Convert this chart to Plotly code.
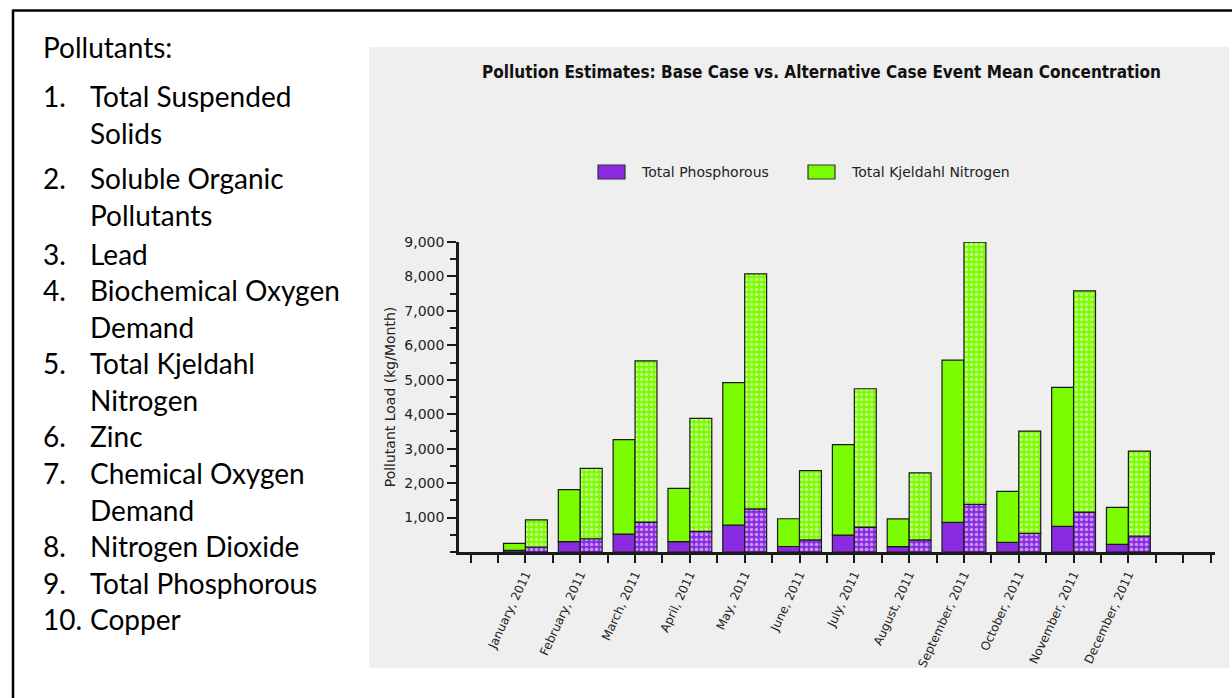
import plotly.graph_objects as go

W, H = 1232, 698
L, R, T, B = 459, 17, 242, 146

months = ["January, 2011", "February, 2011", "March, 2011", "April, 2011", "May, 2011",
          "June, 2011", "July, 2011", "August, 2011", "September, 2011", "October, 2011",
          "November, 2011", "December, 2011"]

# Base case (solid bars)
base_tp = [50, 300, 520, 300, 780, 160, 490, 155, 860, 280, 745, 220]
base_tkn = [200, 1510, 2740, 1550, 4140, 805, 2625, 805, 4710, 1480, 4035, 1075]
# Alternative case (dotted bars)
alt_tp = [145, 385, 870, 600, 1250, 350, 725, 350, 1385, 540, 1160, 465]
alt_tkn = [785, 2040, 4680, 3280, 6825, 2010, 4015, 1950, 7610, 2970, 6420, 2465]

series_names = ["Total Phosphorous", "Total Kjeldahl Nitrogen"]

pollutants = ["Total Suspended\nSolids", "Soluble Organic\nPollutants", "Lead",
              "Biochemical Oxygen\nDemand", "Total Kjeldahl\nNitrogen", "Zinc",
              "Chemical Oxygen\nDemand", "Nitrogen Dioxide", "Total Phosphorous", "Copper"]

PURPLE = "#8a2be2"
GREEN = "#7cfc00"
EDGE = "#1a1a1a"
PANEL = "#efefef"
FONT = "DejaVu Sans"
FONTC = "DejaVu Sans Condensed"

xs = list(range(len(months)))


def px2x(px):
    return (px - L) / (W - L - R)


def py2y(py):
    return (H - B - py) / (H - T - B)


fig = go.Figure()
line = dict(color=EDGE, width=1.2)
fig.add_trace(go.Bar(x=xs, y=base_tp, width=0.4, offset=-0.4, name=series_names[0],
                     marker=dict(color=PURPLE, line=line), showlegend=False))
fig.add_trace(go.Bar(x=xs, y=base_tkn, base=base_tp, width=0.4, offset=-0.4,
                     name=series_names[1], marker=dict(color=GREEN, line=line),
                     showlegend=False))
fig.add_trace(go.Bar(x=xs, y=alt_tp, width=0.4, offset=0, showlegend=False,
                     name=series_names[0] + " (Alternative)",
                     marker=dict(color=PURPLE, line=line,
                                 pattern=dict(shape=".", fgcolor="white", bgcolor=PURPLE,
                                              size=5, solidity=0.4, fillmode="overlay"))))
fig.add_trace(go.Bar(x=xs, y=alt_tkn, base=alt_tp, width=0.4, offset=0, showlegend=False,
                     name=series_names[1] + " (Alternative)",
                     marker=dict(color=GREEN, line=line,
                                 pattern=dict(shape=".", fgcolor="white", bgcolor=GREEN,
                                              size=5, solidity=0.4, fillmode="overlay"))))

tickvals = [v / 2 for v in range(-2, 26)]
ticktext = [months[int(v)] if (v == int(v) and 0 <= v <= 11) else "" for v in tickvals]

fig.update_layout(
    width=W, height=H,
    margin=dict(l=L, r=R, t=T, b=B),
    paper_bgcolor="white",
    plot_bgcolor=PANEL,
    barmode="overlay",
    showlegend=False,
    font=dict(family=FONT, size=14, color="#222"),
    title=dict(text="<b>Pollution Estimates: Base Case vs. Alternative Case Event Mean Concentration</b>",
               xref="container", yref="container", x=821.5 / W, y=1 - 72 / H,
               xanchor="center", yanchor="middle",
               font=dict(family=FONTC, size=17, color="#111")),
    xaxis=dict(range=[-1.212, 12.58], tickmode="array", tickvals=tickvals, ticktext=ticktext,
               tickangle=-65, ticks="outside", ticklen=8, tickwidth=2, tickcolor=EDGE,
               showline=True, linewidth=2.5, linecolor=EDGE, showgrid=False, zeroline=False,
               tickfont=dict(family=FONT, size=12, color="#222")),
    yaxis=dict(range=[0, 9000], tickmode="array", tickvals=list(range(1000, 9001, 1000)),
               tickformat=",d", ticks="outside", ticklen=9, tickwidth=2, tickcolor=EDGE,
               showline=True, linewidth=2.5, linecolor=EDGE, showgrid=False, zeroline=False,
               minor=dict(tickmode="linear", tick0=0, dtick=500, ticks="outside", ticklen=6,
                          tickwidth=2, tickcolor=EDGE, showgrid=False),
               title=dict(text="Pollutant Load (kg/Month)", standoff=6,
                          font=dict(family=FONT, size=14, color="#222")),
               tickfont=dict(family=FONT, size=14, color="#222")),
)

# chart panel background and outer frame
fig.add_shape(type="rect", xref="paper", yref="paper", layer="below",
              x0=px2x(369), x1=px2x(1229), y0=py2y(668), y1=py2y(47),
              fillcolor=PANEL, line=dict(width=0))
fig.add_shape(type="line", xref="paper", yref="paper",
              x0=px2x(13), x1=px2x(1240), y0=py2y(10.5), y1=py2y(10.5),
              line=dict(color="black", width=2.5))
fig.add_shape(type="line", xref="paper", yref="paper",
              x0=px2x(13), x1=px2x(13), y0=py2y(9.5), y1=py2y(710),
              line=dict(color="black", width=2.5))

# legend (swatches + labels)
legend_items = [(series_names[0], PURPLE, 598), (series_names[1], GREEN, 808)]
for name, col, x0 in legend_items:
    fig.add_shape(type="rect", xref="paper", yref="paper",
                  x0=px2x(x0), x1=px2x(x0 + 27), y0=py2y(179), y1=py2y(165),
                  fillcolor=col, line=dict(color="#333", width=1.2))
    fig.add_annotation(text=name, xref="paper", yref="paper", x=px2x(x0 + 41), y=py2y(172),
                       xanchor="left", yanchor="middle", showarrow=False,
                       font=dict(family=FONT, size=14, color="#222"))

# left-hand pollutant list
TXT = dict(family="Lato", size=28, color="black")
fig.add_annotation(text="Pollutants:", xref="paper", yref="paper", x=px2x(41), y=py2y(47),
                   xanchor="left", yanchor="middle", showarrow=False, font=TXT)
first_lines = [96, 178, 254, 290, 363, 436, 473, 546, 583, 619]
for i, (name, yc) in enumerate(zip(pollutants, first_lines)):
    parts = name.split("\n")
    fig.add_annotation(text=f"{i + 1}.", xref="paper", yref="paper", x=px2x(41), y=py2y(yc),
                       xanchor="left", yanchor="middle", showarrow=False, font=TXT)
    for j, p in enumerate(parts):
        fig.add_annotation(text=p, xref="paper", yref="paper", x=px2x(88),
                           y=py2y(yc + j * 37), xanchor="left", yanchor="middle",
                           showarrow=False, font=TXT)

fig.write_html("out.html", config={"displayModeBar": False},
               post_script="document.body.style.margin='0px';")
